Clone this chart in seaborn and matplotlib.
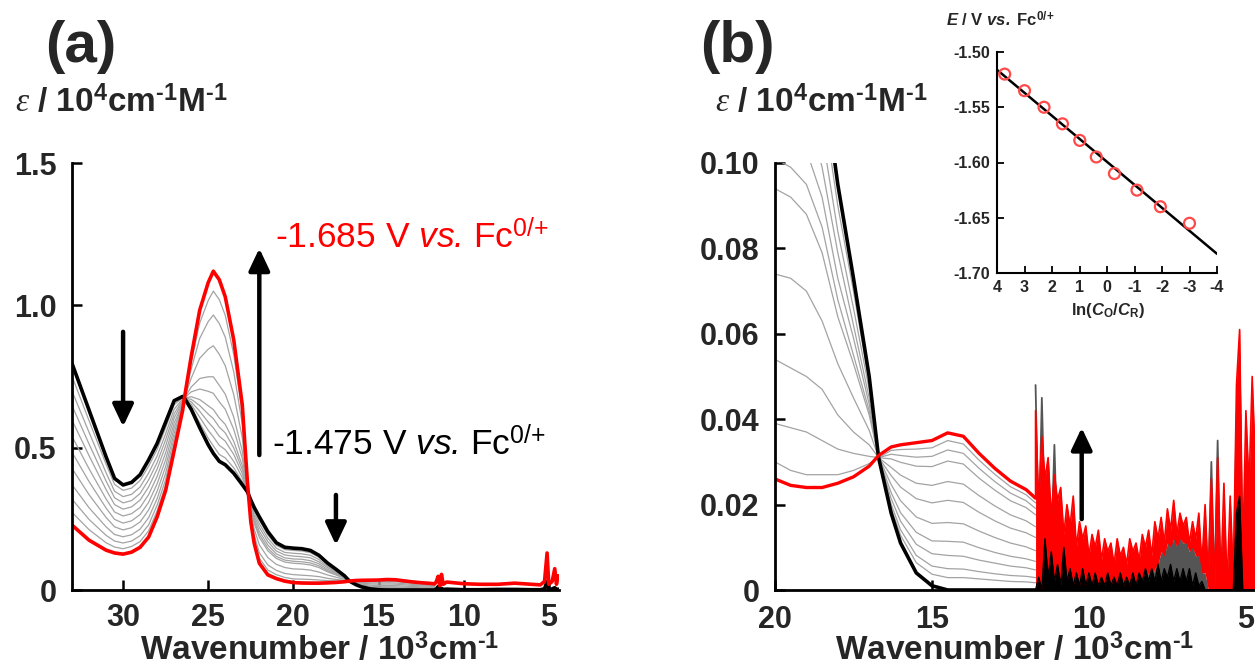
import numpy as np
import pandas as pd
import matplotlib
matplotlib.use("Agg")
import matplotlib.pyplot as plt
import seaborn as sns

# ---------------- data ----------------
# wavenumber grid, 10^3 cm^-1 (smooth part of the spectra)
wn = [33, 32, 31, 30.5, 30, 29.5, 29, 28.5, 28, 27.5,
      27, 26.5, 26.4, 26, 25.5, 25, 24.7, 24.35, 24, 23.5,
      23, 22.7, 22.5, 22.3, 22, 21.5, 21, 20.5, 20, 19.5,
      19, 18.5, 18, 17.5, 17, 16.7, 16.3, 16, 15.5, 15,
      14.5, 14, 13.5, 13, 12.5, 12, 11.7]

# epsilon / 10^4 cm^-1 M^-1 at -1.475 V (black) and -1.685 V (red)
eps_black = [0.796, 0.632, 0.468, 0.392, 0.369, 0.378, 0.405, 0.457, 0.515, 0.590,
             0.665, 0.680, 0.674, 0.635, 0.570, 0.510, 0.480, 0.452, 0.440, 0.410,
             0.370, 0.345, 0.316, 0.290, 0.257, 0.205, 0.166, 0.150, 0.147, 0.145,
             0.139, 0.122, 0.095, 0.073, 0.050, 0.031, 0.018, 0.011, 0.004, 0.001,
             0.000, 0.000, 0.000, 0.000, 0.000, 0.000, 0.000]
eps_red = [0.228, 0.175, 0.140, 0.130, 0.126, 0.133, 0.150, 0.186, 0.257, 0.350,
           0.490, 0.632, 0.674, 0.820, 0.983, 1.080, 1.120, 1.090, 1.030, 0.878,
           0.650, 0.380, 0.240, 0.164, 0.094, 0.053, 0.040, 0.031, 0.026, 0.0245,
           0.024, 0.024, 0.025, 0.0265, 0.029, 0.0315, 0.0335, 0.034, 0.0345, 0.035,
           0.0368, 0.036, 0.032, 0.0285, 0.0255, 0.0235, 0.0215]

# intermediate potentials (grey curves), one row per wavenumber of `wn`
eps_grey_rows = [
    [0.751, 0.699, 0.648, 0.597, 0.540, 0.484, 0.427, 0.370, 0.319, 0.273],
    [0.595, 0.554, 0.513, 0.472, 0.426, 0.381, 0.335, 0.289, 0.248, 0.212],
    [0.442, 0.412, 0.383, 0.353, 0.320, 0.288, 0.255, 0.222, 0.192, 0.166],
    [0.371, 0.347, 0.324, 0.300, 0.274, 0.248, 0.222, 0.195, 0.172, 0.151],
    [0.350, 0.328, 0.306, 0.284, 0.260, 0.235, 0.211, 0.187, 0.165, 0.145],
    [0.358, 0.336, 0.314, 0.292, 0.268, 0.243, 0.219, 0.194, 0.172, 0.153],
    [0.385, 0.362, 0.339, 0.316, 0.290, 0.265, 0.239, 0.214, 0.191, 0.170],
    [0.435, 0.411, 0.387, 0.362, 0.335, 0.308, 0.281, 0.254, 0.229, 0.208],
    [0.494, 0.471, 0.448, 0.425, 0.399, 0.373, 0.347, 0.321, 0.298, 0.278],
    [0.571, 0.549, 0.528, 0.506, 0.482, 0.458, 0.434, 0.410, 0.388, 0.369],
    [0.651, 0.635, 0.619, 0.604, 0.586, 0.569, 0.551, 0.534, 0.518, 0.504],
    [0.676, 0.672, 0.668, 0.663, 0.658, 0.654, 0.649, 0.644, 0.640, 0.636],
    [0.674, 0.674, 0.674, 0.674, 0.674, 0.674, 0.674, 0.674, 0.674, 0.674],
    [0.642, 0.652, 0.661, 0.670, 0.679, 0.696, 0.713, 0.744, 0.776, 0.800],
    [0.587, 0.607, 0.628, 0.648, 0.669, 0.706, 0.743, 0.814, 0.884, 0.938],
    [0.533, 0.561, 0.590, 0.618, 0.647, 0.698, 0.749, 0.846, 0.943, 1.017],
    [0.506, 0.538, 0.570, 0.602, 0.634, 0.691, 0.749, 0.858, 0.966, 1.050],
    [0.476, 0.508, 0.540, 0.572, 0.604, 0.661, 0.719, 0.828, 0.936, 1.020],
    [0.464, 0.493, 0.523, 0.552, 0.582, 0.635, 0.688, 0.788, 0.888, 0.965],
    [0.429, 0.452, 0.476, 0.499, 0.522, 0.564, 0.607, 0.686, 0.766, 0.827],
    [0.381, 0.395, 0.409, 0.423, 0.437, 0.462, 0.488, 0.535, 0.583, 0.619],
    [0.346, 0.348, 0.350, 0.352, 0.353, 0.357, 0.360, 0.366, 0.372, 0.376],
    [0.311, 0.305, 0.299, 0.292, 0.287, 0.283, 0.270, 0.257, 0.248, 0.242],
    [0.281, 0.271, 0.261, 0.251, 0.242, 0.235, 0.214, 0.193, 0.178, 0.168],
    [0.246, 0.233, 0.220, 0.206, 0.195, 0.185, 0.159, 0.131, 0.112, 0.099],
    [0.194, 0.182, 0.170, 0.158, 0.147, 0.138, 0.114, 0.088, 0.070, 0.058],
    [0.157, 0.147, 0.137, 0.127, 0.118, 0.111, 0.090, 0.069, 0.054, 0.044],
    [0.142, 0.132, 0.123, 0.113, 0.105, 0.098, 0.079, 0.058, 0.044, 0.035],
    [0.139, 0.129, 0.119, 0.109, 0.101, 0.094, 0.074, 0.054, 0.039, 0.030],
    [0.137, 0.127, 0.117, 0.108, 0.099, 0.092, 0.073, 0.052, 0.038, 0.028],
    [0.131, 0.122, 0.113, 0.103, 0.095, 0.088, 0.070, 0.050, 0.037, 0.027],
    [0.115, 0.107, 0.099, 0.092, 0.085, 0.079, 0.063, 0.047, 0.035, 0.027],
    [0.090, 0.084, 0.079, 0.073, 0.068, 0.064, 0.053, 0.041, 0.033, 0.027],
    [0.070, 0.066, 0.062, 0.059, 0.055, 0.053, 0.045, 0.037, 0.032, 0.028],
    [0.0485, 0.047, 0.045, 0.0435, 0.042, 0.041, 0.0374, 0.034, 0.0313, 0.0296],
    [0.031, 0.031, 0.031, 0.031, 0.031, 0.031, 0.031, 0.031, 0.031, 0.031],
    [0.0192, 0.0201, 0.0214, 0.0228, 0.0247, 0.0268, 0.0287, 0.0307, 0.0318, 0.0327],
    [0.0128, 0.0141, 0.0161, 0.0181, 0.0209, 0.0241, 0.0269, 0.0299, 0.0315, 0.0329],
    [0.0064, 0.0081, 0.0107, 0.0135, 0.0171, 0.0214, 0.0250, 0.0290, 0.0311, 0.0330],
    [0.0037, 0.0056, 0.0085, 0.0115, 0.0156, 0.0204, 0.0245, 0.0289, 0.0313, 0.0333],
    [0.0029, 0.0050, 0.0081, 0.0114, 0.0158, 0.0210, 0.0254, 0.0302, 0.0328, 0.0350],
    [0.0029, 0.0049, 0.0079, 0.0112, 0.0155, 0.0205, 0.0248, 0.0295, 0.0320, 0.0342],
    [0.0026, 0.0043, 0.0070, 0.0099, 0.0138, 0.0182, 0.0221, 0.0262, 0.0285, 0.0304],
    [0.0023, 0.0038, 0.0063, 0.0088, 0.0123, 0.0162, 0.0197, 0.0234, 0.0254, 0.0271],
    [0.0020, 0.0034, 0.0056, 0.0079, 0.0110, 0.0145, 0.0176, 0.0209, 0.0227, 0.0242],
    [0.0019, 0.0032, 0.0052, 0.0073, 0.0101, 0.0134, 0.0162, 0.0193, 0.0209, 0.0223],
    [0.0017, 0.0029, 0.0047, 0.0067, 0.0092, 0.0123, 0.0148, 0.0176, 0.0191, 0.0204],
]

# panel (a): noisy near-IR tail
a_tail_wn = [11.6, 11.5, 11.4, 11.3, 11.2, 11.0, 10.5, 10.0, 9.0, 8.0,
             7.0, 6.0, 5.5, 5.25, 5.1, 5.0, 4.8, 4.65, 4.55, 4.45]
a_tail_red = [0.030, 0.048, 0.015, 0.055, 0.020, 0.028, 0.025, 0.022, 0.020, 0.020,
              0.024, 0.020, 0.018, 0.030, 0.130, 0.020, 0.030, 0.075, 0.020, 0.050]
a_tail_black = [0.004, 0.012, 0.000, 0.006, 0.002, 0.003, 0.002, 0.001, 0.001, 0.002,
                0.002, 0.001, 0.001, 0.004, 0.030, 0.000, 0.004, 0.008, 0.001, 0.003]

# panel (b): noisy near-IR region, 11.7 -> 4.7 (x 10^3 cm^-1), 0.1 steps
nir_start, nir_stop, nir_count = 11.7, 4.7, 71
nir_red = [0.042, 0.020, 0.036, 0.026, 0.031, 0.017, 0.027, 0.021, 0.024, 0.013,
           0.020, 0.015, 0.022, 0.010, 0.016, 0.012, 0.015, 0.008, 0.013, 0.010,
           0.014, 0.007, 0.012, 0.009, 0.011, 0.006, 0.012, 0.008, 0.010, 0.006,
           0.012, 0.009, 0.011, 0.007, 0.013, 0.010, 0.014, 0.008, 0.016, 0.012,
           0.017, 0.011, 0.019, 0.014, 0.021, 0.013, 0.018, 0.015, 0.017, 0.011,
           0.016, 0.012, 0.018, 0.006, 0.020, 0.003, 0.026, 0.001, 0.031, 0.002,
           0.025, 0.001, 0.022, 0.003, 0.048, 0.061, 0.008, 0.042, 0.024, 0.050,
           0.030]
# intermediate spectra: spiky maxima and the lower grey band under the red noise
nir_grey_peak = [0.048, 0.012, 0.045, 0.016, 0.030, 0.010, 0.034, 0.009, 0.018, 0.006,
                 0.014, 0.005, 0.012, 0.004, 0.010, 0.004, 0.009, 0.003, 0.008, 0.003,
                 0.007, 0.003, 0.007, 0.003, 0.006, 0.003, 0.006, 0.002, 0.006, 0.003,
                 0.006, 0.003, 0.007, 0.003, 0.007, 0.004, 0.008, 0.004, 0.010, 0.006,
                 0.012, 0.007, 0.013, 0.008, 0.014, 0.008, 0.013, 0.007, 0.012, 0.006,
                 0.011, 0.004, 0.010, 0.003, 0.015, 0.001, 0.030, 0.000, 0.035, 0.000,
                 0.012, 0.000, 0.008, 0.000, 0.040, 0.055, 0.005, 0.030, 0.010, 0.035,
                 0.015]
nir_grey_band = [0.000, 0.000, 0.000, 0.000, 0.000, 0.000, 0.000, 0.000, 0.000, 0.000,
                 0.000, 0.000, 0.000, 0.000, 0.000, 0.000, 0.000, 0.000, 0.000, 0.000,
                 0.000, 0.000, 0.000, 0.000, 0.000, 0.000, 0.000, 0.000, 0.000, 0.000,
                 0.000, 0.000, 0.002, 0.002, 0.003, 0.003, 0.004, 0.003, 0.005, 0.006,
                 0.009, 0.008, 0.011, 0.010, 0.012, 0.010, 0.012, 0.011, 0.011, 0.009,
                 0.010, 0.008, 0.008, 0.004, 0.004, 0.000, 0.000, 0.000, 0.000, 0.000,
                 0.000, 0.000, 0.000, 0.000, 0.000, 0.000, 0.000, 0.000, 0.000, 0.000,
                 0.000]
nir_black = [0.000, 0.003, 0.000, 0.012, 0.003, 0.009, 0.002, 0.006, 0.001, 0.010,
             0.002, 0.005, 0.001, 0.004, 0.001, 0.005, 0.001, 0.004, 0.001, 0.004,
             0.001, 0.003, 0.001, 0.004, 0.001, 0.003, 0.001, 0.004, 0.001, 0.003,
             0.001, 0.004, 0.001, 0.004, 0.002, 0.005, 0.002, 0.005, 0.002, 0.006,
             0.002, 0.005, 0.003, 0.006, 0.002, 0.005, 0.002, 0.005, 0.002, 0.005,
             0.001, 0.004, 0.001, 0.002, 0.000, 0.000, 0.000, 0.000, 0.000, 0.000,
             0.000, 0.000, 0.000, 0.000, 0.018, 0.022, 0.000, 0.000, 0.000, 0.000,
             0.000]

# inset: Nernst plot
ln_ratio = [3.72, 3.0, 2.29, 1.62, 0.99, 0.39, -0.27, -1.09, -1.94, -3.0]
E_volt = [-1.520, -1.535, -1.550, -1.565, -1.580, -1.595, -1.610, -1.625, -1.640, -1.655]

# tick labels
a_xticks = [30, 25, 20, 15, 10, 5]
a_yticks = [0, 0.5, 1.0, 1.5]
a_yticklabels = ["0", "0.5", "1.0", "1.5"]
b_xticks = [20, 15, 10, 5]
b_yticks = [0, 0.02, 0.04, 0.06, 0.08, 0.10]
b_yticklabels = ["0", "0.02", "0.04", "0.06", "0.08", "0.10"]
i_xticks = [4, 3, 2, 1, 0, -1, -2, -3, -4]
i_yticks = [-1.70, -1.65, -1.60, -1.55, -1.50]
i_yticklabels = ["-1.70", "-1.65", "-1.60", "-1.55", "-1.50"]

# ---------------- style ----------------
sns.set_theme(style="ticks")
plt.rcParams.update({
    "font.family": ["Liberation Sans", "DejaVu Sans"],
    "mathtext.fontset": "custom",
    "mathtext.rm": "Liberation Sans",
    "mathtext.bf": "Liberation Sans:bold",
    "mathtext.it": "Liberation Serif:italic",
    "mathtext.sf": "Liberation Sans:bold:italic",
    "mathtext.tt": "Liberation Sans:italic",
    "axes.unicode_minus": False,
})

W, H = 1255, 671
fig = plt.figure(figsize=(W / 100, H / 100), dpi=100)
axa = fig.add_axes([72 / W, 81 / H, 487 / W, 427 / H])
axb = fig.add_axes([775 / W, 81 / H, 480 / W, 427 / H])
axi = fig.add_axes([997 / W, (H - 273) / H, 220 / W, 221 / H])

GREY = "#a3a3a3"
RED = "#ff0000"
DARKGREY = "#555555"

grey_arr = np.array(eps_grey_rows)
df_grey = pd.DataFrame(grey_arr, index=wn)
df_grey.index.name = "wn"
df_grey = df_grey.reset_index().melt(id_vars="wn", var_name="curve", value_name="eps")

nir_wn = np.linspace(nir_start, nir_stop, nir_count)
nir_red_a = np.array(nir_red)
nir_band_a = np.array(nir_grey_band)
nir_black_a = np.array(nir_black)


def style_main(ax):
    for s in ["top", "right"]:
        ax.spines[s].set_visible(False)
    for s in ["left", "bottom"]:
        ax.spines[s].set_linewidth(2.0)
        ax.spines[s].set_color("black")
        ax.spines[s].set_zorder(6)
    ax.tick_params(direction="in", length=7.5, width=1.8, color="black",
                   labelsize=22, pad=9, top=False, right=False)
    for lab in ax.get_xticklabels() + ax.get_yticklabels():
        lab.set_fontweight("bold")
    ax.set_xlabel("")
    ax.set_ylabel("")
    ax.patch.set_alpha(0)


# ---------------- panel (a) ----------------
sns.lineplot(data=df_grey, x="wn", y="eps", units="curve", estimator=None,
             color=GREY, lw=0.9, ax=axa, legend=False)
sns.lineplot(x=list(wn) + a_tail_wn, y=list(eps_black) + a_tail_black,
             color="black", lw=2.6, ax=axa, sort=False, estimator=None)
sns.lineplot(x=list(wn) + a_tail_wn, y=list(eps_red) + a_tail_red,
             color=RED, lw=2.6, ax=axa, sort=False, estimator=None)
axa.set_xlim(33, 4.4)
axa.set_ylim(0, 1.5)
axa.set_xticks(a_xticks)
axa.set_xticklabels([str(t) for t in a_xticks])
axa.set_yticks(a_yticks)
axa.set_yticklabels(a_yticklabels)
style_main(axa)
axa.tick_params(axis="y", pad=11)

arrow_kw = dict(arrowstyle="-|>,head_length=0.95,head_width=0.45", lw=3.2,
                color="black", shrinkA=0, shrinkB=0, mutation_scale=14)
axa.annotate("", xy=(22.0, 1.20), xytext=(22.0, 0.474), arrowprops=arrow_kw)
axa.annotate("", xy=(30.0, 0.574), xytext=(30.0, 0.907), arrowprops=arrow_kw)
axa.annotate("", xy=(17.5, 0.158), xytext=(17.5, 0.334), arrowprops=arrow_kw)

axa.text(21.06, 1.24, r"-1.685 V $\mathtt{vs.}\,$Fc$^{\mathrm{0/{+}}}$", color=RED,
         fontsize=25.5, ha="left", va="center", clip_on=False)
axa.text(21.25, 0.51, r"-1.475 V $\mathtt{vs.}\,$Fc$^{\mathrm{0/{+}}}$", color="black",
         fontsize=25.5, ha="left", va="center", clip_on=False)

# ---------------- panel (b) ----------------
sns.lineplot(data=df_grey, x="wn", y="eps", units="curve", estimator=None,
             color=GREY, lw=0.9, ax=axb, legend=False)
sns.lineplot(x=wn, y=eps_black, color="black", lw=2.6, ax=axb,
             sort=False, estimator=None)
sns.lineplot(x=wn, y=eps_red, color=RED, lw=2.4, ax=axb,
             sort=False, estimator=None)
# noisy near-IR part: dark grey (intermediate), red (final) and black (initial) layers
sns.lineplot(x=nir_wn, y=nir_grey_peak, color=DARKGREY, lw=1.3, ax=axb,
             sort=False, estimator=None, zorder=2.5)
axb.fill_between(nir_wn, 0, nir_band_a, color=DARKGREY, lw=0, zorder=2.6)
axb.fill_between(nir_wn, nir_band_a, nir_red_a, where=nir_red_a >= nir_band_a,
                 interpolate=True, color=RED, lw=0, zorder=2.7)
sns.lineplot(x=[wn[-1]] + list(nir_wn), y=[eps_red[-1]] + nir_red,
             color=RED, lw=1.2, ax=axb, sort=False, estimator=None, zorder=2.75)
axb.fill_between(nir_wn, 0, nir_black_a, color="black", lw=0, zorder=2.8)
sns.lineplot(x=nir_wn, y=nir_black, color="black", lw=1.0, ax=axb,
             sort=False, estimator=None, zorder=2.9)
axb.set_xlim(20, 4.71)
axb.set_ylim(0, 0.10)
axb.set_xticks(b_xticks)
axb.set_xticklabels([str(t) for t in b_xticks])
axb.set_yticks(b_yticks)
axb.set_yticklabels(b_yticklabels)
style_main(axb)
axb.tick_params(axis="y", pad=11)
axb.tick_params(axis="x", pad=11)
axb.annotate("", xy=(10.23, 0.038), xytext=(10.23, 0.0166), arrowprops=arrow_kw)

# ---------------- inset ----------------
axi.set_xlim(4, -4)
axi.set_ylim(-1.70, -1.50)
sns.regplot(x=np.array(ln_ratio), y=np.array(E_volt), ax=axi, scatter=False,
            ci=None, truncate=False, line_kws=dict(color="black", lw=1.8))
sns.scatterplot(x=ln_ratio, y=E_volt, ax=axi, marker="o", s=62,
                facecolor="none", edgecolor="#ff4a4a", linewidth=1.6, zorder=5,
                legend=False)
axi.set_xlim(4, -4)
axi.set_ylim(-1.70, -1.50)
axi.set_xticks(i_xticks)
axi.set_xticklabels([str(t) for t in i_xticks])
axi.set_yticks(i_yticks)
axi.set_yticklabels(i_yticklabels)
for s in ["top", "right"]:
    axi.spines[s].set_visible(False)
for s in ["left", "bottom"]:
    axi.spines[s].set_linewidth(1.5)
    axi.spines[s].set_color("black")
axi.tick_params(direction="in", length=5, width=1.3, color="black",
                labelsize=11.5, pad=5)
for lab in axi.get_xticklabels() + axi.get_yticklabels():
    lab.set_fontweight("bold")
axi.set_xlabel("")
axi.set_ylabel("")
axi.patch.set_alpha(0)

# ---------------- figure texts ----------------
fig.text(45 / W, 1 - 47 / H, "(a)", fontsize=42, fontweight="bold", ha="left", va="center")
fig.text(700 / W, 1 - 47 / H, "(b)", fontsize=42, fontweight="bold", ha="left", va="center")
ylab = "$\\mathit{\\varepsilon}$ / 10$^{\\mathbf{4}}$cm$^{\\mathbf{\u20101}}$M$^{\\mathbf{\u20101}}$"
fig.text(15 / W, 1 - 102 / H, ylab, fontsize=24, fontweight="bold", ha="left", va="center")
fig.text(715 / W, 1 - 102 / H, ylab, fontsize=24, fontweight="bold", ha="left", va="center")
xlab = "Wavenumber / 10$^{\\mathbf{3}}$cm$^{\\mathbf{\u20101}}$"
fig.text(320 / W, 1 - 650 / H, xlab, fontsize=24, fontweight="bold", ha="center", va="center")
fig.text(1015 / W, 1 - 650 / H, xlab, fontsize=24, fontweight="bold", ha="center", va="center")
fig.text(946 / W, 1 - 20 / H, r"$\mathsf{E}$ / V $\mathsf{vs.}$ Fc$^{\mathbf{0/{+}}}$",
         fontsize=12, fontweight="bold", ha="left", va="center")
fig.text(1108 / W, 1 - 310 / H, r"ln($\mathsf{C}_{\mathbf{O}}$/$\mathsf{C}_{\mathbf{R}}$)",
         fontsize=12, fontweight="bold", ha="center", va="center")

fig.savefig("out.png", dpi=100)
